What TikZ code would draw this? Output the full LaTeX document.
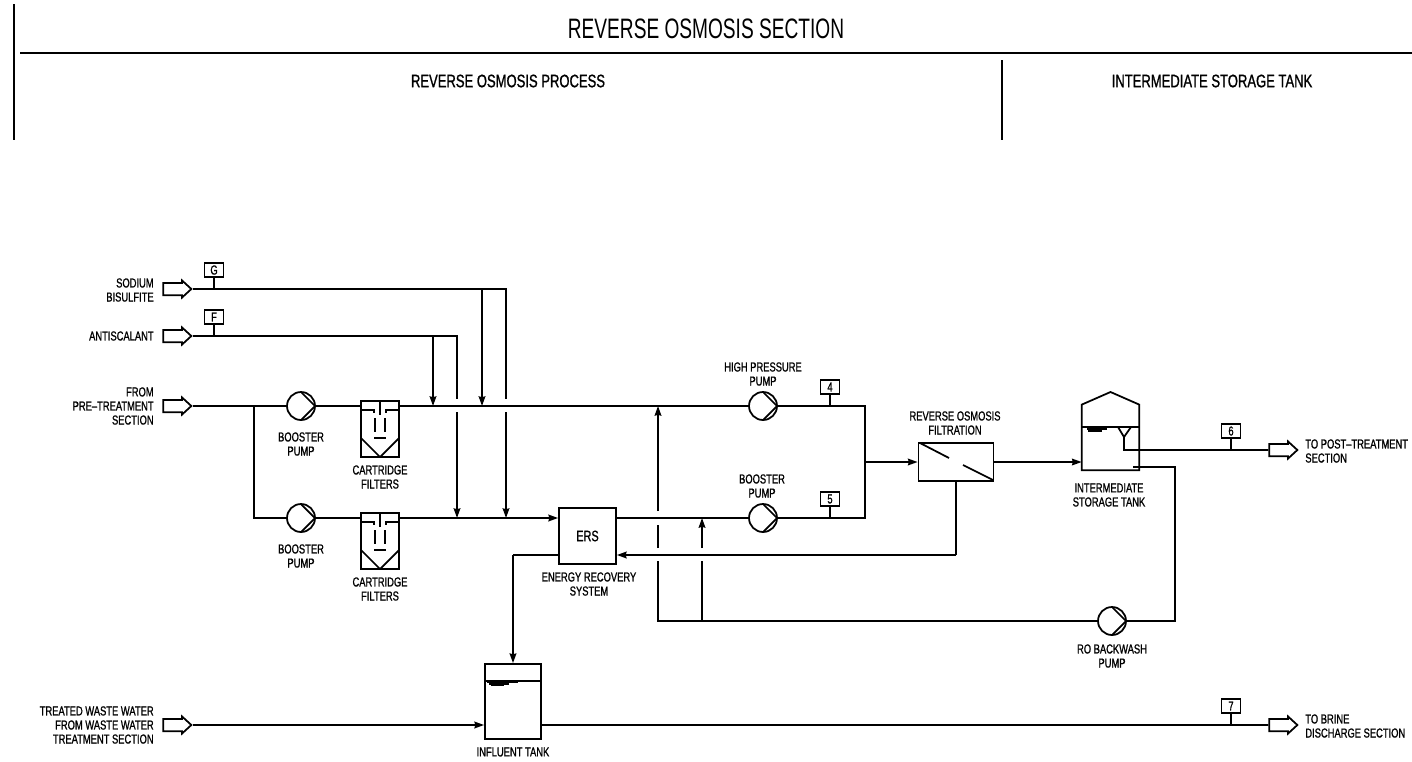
\documentclass[tikz,border=0pt]{standalone}
\usepackage{fontspec}
\setmainfont[FakeStretch=0.72]{Liberation Sans}
\newfontfamily\titlefont[FakeStretch=0.68]{Liberation Sans}
\newfontfamily\lblfont[FakeStretch=0.72,FakeBold=1,Ligatures=TeX]{Liberation Sans}
\usetikzlibrary{arrows.meta,shapes.arrows}
\tikzset{
    pipe/.style={line width=1pt},
    flow/.style={pipe, -{Stealth[length=5.5pt,width=3.8pt,inset=0.5pt]}},
    lbl/.style={inner sep=0, align=center, font=\lblfont\fontsize{7.4}{8}\selectfont},
    hdr/.style={inner sep=0, font=\lblfont\fontsize{10.3}{12}\selectfont},
    tagbox/.style={draw, pipe, inner sep=0, minimum width=0.38cm, minimum height=0.29cm, font=\lblfont\fontsize{7.4}{8}\selectfont},
    inout/.style={draw, pipe, single arrow, inner sep=0, text height=0.21cm, text depth=0pt, minimum height=0.56cm,
        single arrow head extend=0.05cm, single arrow tip angle=85},
    pumpc/.style={draw, pipe, circle, inner sep=0, minimum size=0.56cm,
        path picture={\draw[pipe] (path picture bounding box.north) -- (path picture bounding box.east) -- (path picture bounding box.south);}},
    cartridge/.style={draw, pipe, inner sep=0, minimum width=0.75cm, minimum height=1.12cm,
        path picture={\begin{scope}[shift={(path picture bounding box.center)}]
            \draw[pipe] (-19,-19) -- (-6,-19) -- (-6,-16);
            \draw[pipe] (19,-19) -- (6,-19) -- (6,-16);
            \draw[pipe] (0,-28) -- (0,-14);
            \draw[pipe] (-5,-11) -- (-5,3);
            \draw[pipe] (5,-11) -- (5,3);
            \draw[pipe] (-6,9) -- (6,9);
            \draw[pipe] (-19,9) -- (0,28) -- (19,9);
        \end{scope}}},
}
\begin{document}
\begin{tikzpicture}[x=0.02cm, y=-0.02cm]
    \useasboundingbox (0,0) rectangle (1412,761);

    % Header
    \coordinate (hdrA) at (14,4);
    \coordinate (hdrB) at (14,140);
    \coordinate (hdrC) at (20,53);
    \coordinate (hdrD) at (1412,53);
    \coordinate (hdrE) at (1002,60);
    \coordinate (hdrF) at (1002,140);
    \draw [pipe] (hdrA) -- (hdrB);
    \draw [pipe] (hdrC) -- (hdrD);
    \draw [pipe] (hdrE) -- (hdrF);
    \node [inner sep=0, font=\titlefont\fontsize{16}{18}\selectfont] (title) at (706,29) {REVERSE OSMOSIS SECTION};
    \node [hdr] (hdrRO) at (508,81) {REVERSE OSMOSIS PROCESS};
    \node [hdr] (hdrIS) at (1212,81) {INTERMEDIATE STORAGE TANK};

    % Inlets and outlets
    \node [inout] (inG) at (174,289) {};
    \node [inout] (inF) at (174,336) {};
    \node [inout] (inPre) at (174,406) {};
    \node [inout] (inWaste) at (174,725) {};
    \node [inout] (outPost) at (1280,450) {};
    \node [inout] (outBrine) at (1280,725) {};
    \node [lbl, anchor=east, align=right] (lblG) at (154,290) {SODIUM\\BISULFITE};
    \node [lbl, anchor=east, align=right] (lblF) at (154,336) {ANTISCALANT};
    \node [lbl, anchor=east, align=right] (lblPre) at (154,406) {FROM\\PRE--TREATMENT\\SECTION};
    \node [lbl, anchor=east, align=right] (lblWaste) at (154,725) {TREATED WASTE WATER\\FROM WASTE WATER\\TREATMENT SECTION};
    \node [lbl, anchor=west, align=left] (lblPost) at (1305,451) {TO POST--TREATMENT\\SECTION};
    \node [lbl, anchor=west, align=left] (lblBrine) at (1305,726) {TO BRINE\\DISCHARGE SECTION};

    % Pumps
    \node [pumpc] (pumpA) at (301,406) {};
    \node [pumpc] (pumpB) at (301,518) {};
    \node [pumpc] (pumpHP) at (763,406) {};
    \node [pumpc] (pumpC) at (763,518) {};
    \node [pumpc] (pumpRO) at (1112,621) {};
    \node [lbl] (lblA) at (301,444) {BOOSTER\\PUMP};
    \node [lbl] (lblB) at (301,556) {BOOSTER\\PUMP};
    \node [lbl] (lblHP) at (763,374) {HIGH PRESSURE\\PUMP};
    \node [lbl] (lblC) at (762,486) {BOOSTER\\PUMP};
    \node [lbl] (lblRO) at (1112,656) {RO BACKWASH\\PUMP};

    % Filters and boxes
    \node [cartridge] (filtA) at (380,429) {};
    \node [cartridge] (filtB) at (380,541) {};
    \node [lbl] (lblFiltA) at (380,477) {CARTRIDGE\\FILTERS};
    \node [lbl] (lblFiltB) at (380,589) {CARTRIDGE\\FILTERS};
    \node [draw, pipe, inner sep=0, minimum width=1.14cm, minimum height=1.12cm, font=\lblfont\fontsize{8.6}{10}\selectfont] (ers) at (587.5,536) {ERS};
    \node [lbl] (lblErs) at (589,584) {ENERGY RECOVERY\\SYSTEM};
    \node [draw, pipe, inner sep=0, minimum width=1.5cm, minimum height=0.76cm] (ro) at (956,462) {};
    \draw [pipe] (920,443) -- (949,458);
    \draw [pipe] (963,465) -- (993,480);
    \node [lbl] (lblFilt) at (955,423) {REVERSE OSMOSIS\\FILTRATION};

    % Tanks
    \node [inner sep=0, minimum width=1.14cm, minimum height=1.3cm] (storage) at (1110.5,437.5) {};
    \coordinate (roofA) at (1110.5,392);
    \draw [pipe] (storage.north west) -- (roofA) -- (storage.north east) -- (storage.south east) -- (storage.south west) -- cycle;
    \draw [pipe] (1082,427) -- (1139,427);
    \draw [pipe] (1087,429) -- (1107,429);
    \draw [pipe] (1088,431) -- (1102,431);
    \draw [pipe] (1118,427) -- (1124,437) -- (1131,427);
    \coordinate (drain) at (1124,437);
    \node [lbl] (lblStorage) at (1109,495) {INTERMEDIATE\\STORAGE TANK};
    \node [draw, pipe, inner sep=0, minimum width=1.12cm, minimum height=1.5cm] (influent) at (513,701.5) {};
    \draw [pipe] (485,681) -- (541,681);
    \draw [pipe] (487,682.5) -- (518,682.5);
    \draw [pipe] (489,684) -- (509,684);
    \draw [pipe] (491,685.5) -- (504,685.5);
    \node [lbl] (lblInfluent) at (513,752) {INFLUENT TANK};

    % Tags
    \node [tagbox] (tagG) at (214,270) {G};
    \node [tagbox] (tagF) at (214,317) {F};
    \node [tagbox] (tag4) at (830,387) {4};
    \node [tagbox] (tag5) at (830,499) {5};
    \node [tagbox] (tag6) at (1231,431) {6};
    \node [tagbox] (tag7) at (1231,706) {7};
    \draw [pipe] (tagG) -- (tagG |- inG);
    \draw [pipe] (tagF) -- (tagF |- inF);
    \draw [pipe] (tag4) -- (tag4 |- pumpHP);
    \draw [pipe] (tag5) -- (tag5 |- pumpC);
    \draw [pipe] (tag6) -- (tag6 |- outPost);
    \draw [pipe] (tag7) -- (tag7 |- outBrine);

    % Dosing lines
    \coordinate (sbA) at (482,289);
    \coordinate (sbB) at (506,289);
    \coordinate (asA) at (433,336);
    \coordinate (asB) at (457,336);
    \coordinate (sbGapA) at (506,399);
    \coordinate (sbGapB) at (506,412);
    \coordinate (asGapA) at (457,399);
    \coordinate (asGapB) at (457,412);
    \draw [pipe] (inG.tip) -- (sbB) -- (sbGapA);
    \draw [pipe] (inF.tip) -- (asB) -- (asGapA);
    \draw [flow] (sbA) -- (sbA |- pumpA);
    \draw [flow] (asA) -- (asA |- pumpA);
    \draw [flow] (sbGapB) -- (sbGapB |- pumpB);
    \draw [flow] (asGapB) -- (asGapB |- pumpB);

    % Main lines
    \coordinate (split) at (254,406);
    \coordinate (splitB) at (254,518);
    \coordinate (hpEnd) at (865,406);
    \coordinate (cEnd) at (865,518);
    \coordinate (mix) at (865,462);
    \draw [pipe] (inPre.tip) -- (pumpA);
    \draw [pipe] (split) -- (splitB) -- (pumpB);
    \draw [pipe] (pumpA) -- (filtA.west |- pumpA);
    \draw [pipe] (pumpB) -- (filtB.west |- pumpB);
    \draw [pipe] (filtA.east |- pumpA) -- (pumpHP);
    \draw [flow] (filtB.east |- pumpB) -- (ers.west |- pumpB);
    \draw [pipe] (ers.east |- pumpC) -- (pumpC);
    \draw [pipe] (pumpHP) -- (hpEnd) -- (cEnd) -- (pumpC);
    \draw [flow] (mix) -- (ro.west |- mix);
    \draw [flow] (ro.east) -- (storage.west |- ro.east);

    % Concentrate to ERS and influent tank
    \coordinate (brineA) at (956,555);
    \coordinate (ersOut) at (513,555);
    \draw [pipe] (ro.south) -- (brineA);
    \draw [flow] (brineA) -- (ers.east |- brineA);
    \draw [pipe] (ers.west |- ersOut) -- (ersOut);
    \draw [flow] (ersOut) -- (influent.north);
    \draw [flow] (inWaste.tip) -- (influent.west |- inWaste);
    \draw [pipe] (influent.east |- outBrine) -- (outBrine.west);

    % Product and backwash
    \coordinate (drainEnd) at (1124,450);
    \coordinate (bwTop) at (1133,467);
    \coordinate (bwCorner) at (1175,467);
    \coordinate (bwEnd) at (1175,621);
    \coordinate (bwLeft) at (658,621);
    \coordinate (bwMid) at (702,621);
    \coordinate (gapA1) at (658,561);
    \coordinate (gapA2) at (658,548);
    \coordinate (gapA3) at (658,525);
    \coordinate (gapA4) at (658,511);
    \coordinate (gapB1) at (702,561);
    \coordinate (gapB2) at (702,548);
    \draw [pipe] (drain) -- (drainEnd) -- (outPost.west);
    \draw [pipe] (bwTop) -- (bwCorner) -- (bwEnd) -- (pumpRO);
    \draw [pipe] (pumpRO) -- (bwLeft) -- (gapA1);
    \draw [pipe] (gapA2) -- (gapA3);
    \draw [flow] (gapA4) -- (gapA4 |- pumpHP);
    \draw [pipe] (bwMid) -- (gapB1);
    \draw [flow] (gapB2) -- (gapB2 |- pumpC);
\end{tikzpicture}
\end{document}
